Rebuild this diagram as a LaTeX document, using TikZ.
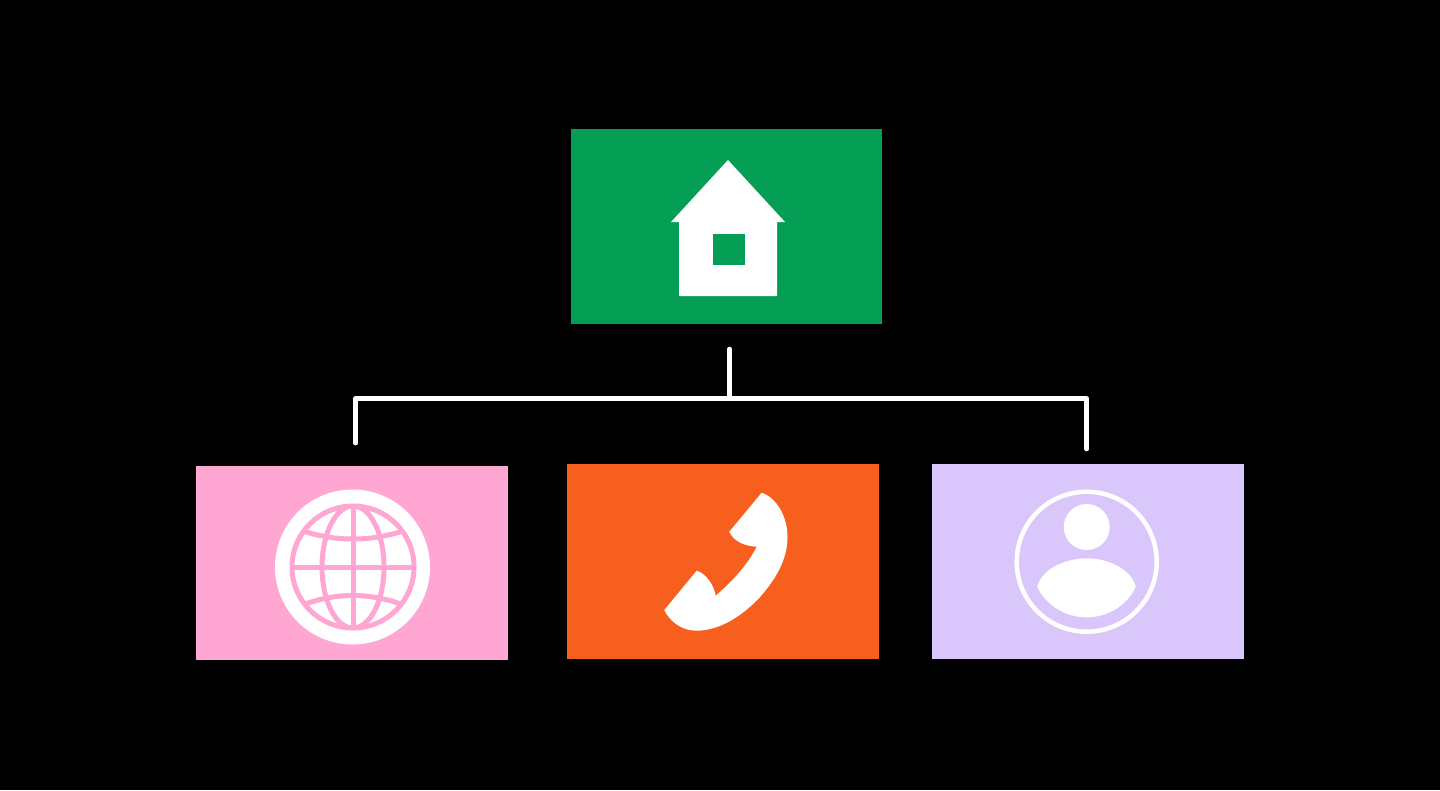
\documentclass[tikz,border=0pt]{standalone}
\usetikzlibrary{positioning}
\definecolor{homegreen}{RGB}{4,158,85}
\definecolor{webpink}{RGB}{255,166,210}
\definecolor{callorange}{RGB}{247,95,30}
\definecolor{userlilac}{RGB}{217,198,250}

\begin{document}
\begin{tikzpicture}[x=.1mm,y=-.1mm,
    card/.style={minimum width=31.15mm,minimum height=19.45mm,inner sep=0pt},
    wire/.style={white,line width=.47mm,line cap=round,line join=round},
    grid/.style={webpink,line width=.5mm}]
    \useasboundingbox (0,0) rectangle (1440,790);
    \fill[black] (0,0) rectangle (1440,790);

    \node[card,fill=homegreen]  (home) at (726.5,226.5) {};
    \node[card,fill=webpink]    (web)  at (352,562.8)   {};
    \node[card,fill=callorange] (call) at (723,561.5)   {};
    \node[card,fill=userlilac]  (user) at (1088,561.5)  {};

    \coordinate (stem)  at (729.5,349);
    \coordinate (bus)   at (729.5,398.5);
    \coordinate (dropa) at (355.5,443);
    \coordinate (dropb) at (1086.7,449);
    \draw[wire] (stem) -- (bus);
    \draw[wire] (dropa) |- (bus) -| (dropb);

    % house
    \fill[white] (728,160) -- (785,222) -- (777,222) -- (777,296) -- (679,296)
      -- (679,222) -- (671,222) -- cycle;
    \fill[homegreen] (713,234) rectangle (744.5,264.5);

    % globe
    \fill[white] (352.5,567) circle (77.5);
    \begin{scope}
      \clip (353,567) circle (61);
      \draw[grid] (353,500) -- (353,630);
      \draw[grid] (285,567) -- (420,567);
      \draw[grid] (353,567) ellipse [x radius=31,y radius=61];
      \draw[grid] (300,530) .. controls (335,542) and (371,542) .. (406,530);
      \draw[grid] (300,606) .. controls (335,592) and (371,592) .. (406,606);
    \end{scope}
    \draw[grid] (353,567) circle (61);

    % phone
    \fill[white] (761.7,492.7) .. controls (777,498) and (787.5,517) .. (787.5,537)
      .. controls (787.5,560) and (775,580) .. (760,597)
      .. controls (745,613) and (722,631) .. (695,630.7)
      .. controls (680,630) and (669,620) .. (664.3,610)
      -- (696.7,570.7) .. controls (707,574) and (714,586) .. (715.7,595.7)
      .. controls (733,581) and (748,564) .. (756.7,546.7)
      .. controls (745,546) and (734,542) .. (729.3,531.7) -- cycle;

    % person
    \draw[white,line width=.45mm] (1086.7,561.7) circle (70);
    \fill[white] (1086.7,527) circle (23);
    \fill[white] (1037.3,586.7) .. controls (1041,570) and (1064,558.3) .. (1086.7,558.3)
      .. controls (1109,558.3) and (1132,570) .. (1135.7,586.7)
      .. controls (1128,604) and (1109,617.3) .. (1086.7,617.3)
      .. controls (1064,617.3) and (1045,604) .. (1037.3,586.7) -- cycle;
\end{tikzpicture}
\end{document}
